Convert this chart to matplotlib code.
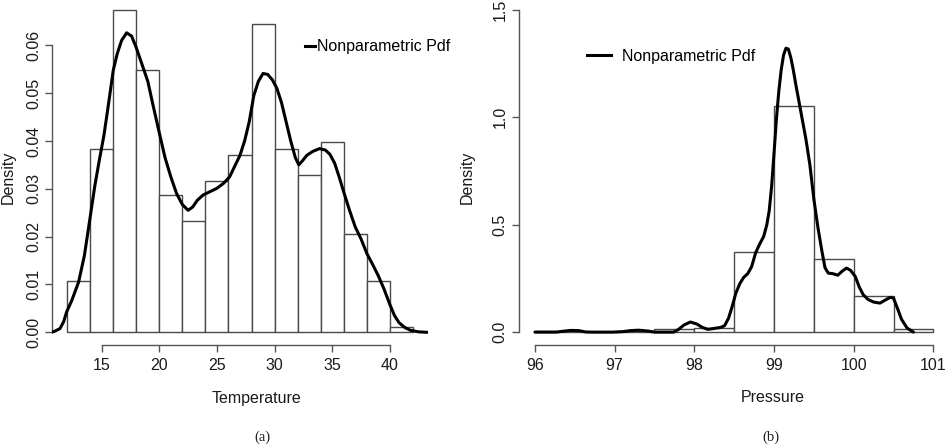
import matplotlib
matplotlib.use("Agg")
import matplotlib.pyplot as plt
from matplotlib.lines import Line2D
import numpy as np

plt.rcParams['font.family'] = ['Liberation Sans', 'DejaVu Sans']

# (a) temperature: histogram (bins of width 2) and kernel density curve
temp_edges = [12, 14, 16, 18, 20, 22, 24, 26, 28, 30, 32, 34, 36, 38, 40, 42]
temp_density = [0.0108, 0.0384, 0.0673, 0.0548, 0.0288, 0.0232, 0.0316, 0.0371,
                0.0644, 0.0384, 0.0329, 0.0398, 0.0205, 0.0108, 0.0012]
temp_kde_x = [10.66, 11.0, 11.39, 11.7, 11.97, 12.4, 13.0, 13.5, 14.0, 14.4,
              14.8, 15.2, 15.6, 16.01, 16.36, 16.73, 17.17, 17.6, 18.0, 18.5,
              19.0, 19.5, 20.0, 20.5, 21.0, 21.5, 22.0, 22.5, 22.9, 23.3,
              23.8, 24.4, 25.0, 25.6, 26.1, 26.5, 27.0, 27.4, 27.8, 28.2,
              28.6, 29.0, 29.4, 29.8, 30.2, 30.6, 31.0, 31.4, 31.8, 32.1,
              32.4, 32.8, 33.3, 33.9, 34.4, 34.8, 35.2, 35.6, 36.0, 36.5,
              37.0, 37.5, 38.0, 38.5, 39.0, 39.5, 40.0, 40.4, 40.8, 41.3,
              41.8, 42.5, 43.24]
temp_kde_y = [0.0000, 0.0003, 0.0008, 0.0022, 0.0043, 0.0066, 0.0105, 0.0160, 0.0240, 0.0305,
              0.0360, 0.0412, 0.0478, 0.0548, 0.0583, 0.0610, 0.0626, 0.0619, 0.0595, 0.0560,
              0.0525, 0.0470, 0.0417, 0.0365, 0.0325, 0.0290, 0.0267, 0.0255, 0.0262, 0.0276,
              0.0287, 0.0294, 0.0301, 0.0312, 0.0325, 0.0345, 0.0370, 0.0400, 0.0440, 0.0495,
              0.0525, 0.0541, 0.0539, 0.0528, 0.0510, 0.0480, 0.0440, 0.0400, 0.0365, 0.0350,
              0.0358, 0.0370, 0.0378, 0.0384, 0.0381, 0.0372, 0.0354, 0.0325, 0.0293, 0.0255,
              0.0220, 0.0195, 0.0165, 0.0142, 0.0118, 0.0090, 0.0058, 0.0035, 0.0020, 0.0010,
              0.0004, 0.0001, 0.0000]
temp_ticks = [15, 20, 25, 30, 35, 40]
temp_yticks = [0.00, 0.01, 0.02, 0.03, 0.04, 0.05, 0.06]

# (b) pressure: histogram (bins of width 0.5) and kernel density curve
pres_edges = [96.0, 96.5, 97.0, 97.5, 98.0, 98.5, 99.0, 99.5, 100.0, 100.5, 101.0]
pres_density = [0.003, 0.0, 0.003, 0.014, 0.019, 0.375, 1.053, 0.340, 0.166, 0.014]
pres_kde_x = [96.00, 96.27, 96.35, 96.45, 96.55, 96.63, 96.70, 96.98, 97.10, 97.20,
              97.30, 97.42, 97.50, 97.74, 97.80, 97.87, 97.95, 98.03, 98.10, 98.17,
              98.25, 98.33, 98.38, 98.43, 98.48, 98.52, 98.57, 98.62, 98.67, 98.72,
              98.77, 98.82, 98.87, 98.91, 98.94, 98.97, 99.00, 99.03, 99.06, 99.09,
              99.12, 99.15, 99.18, 99.21, 99.24, 99.28, 99.31, 99.35, 99.40, 99.45,
              99.50, 99.55, 99.60, 99.64, 99.68, 99.74, 99.80, 99.86, 99.91, 99.96,
              100.02, 100.07, 100.12, 100.18, 100.25, 100.33, 100.40, 100.46, 100.50, 100.55,
              100.60, 100.67, 100.75]
pres_kde_y = [0.000, 0.000, 0.004, 0.008, 0.007, 0.001, 0.000, 0.000, 0.002, 0.007,
              0.009, 0.005, 0.000, 0.000, 0.012, 0.033, 0.047, 0.038, 0.022, 0.013,
              0.017, 0.022, 0.030, 0.065, 0.125, 0.180, 0.225, 0.255, 0.272, 0.305,
              0.370, 0.410, 0.445, 0.500, 0.565, 0.678, 0.830, 0.990, 1.120, 1.220,
              1.290, 1.322, 1.318, 1.280, 1.225, 1.140, 1.081, 1.000, 0.900, 0.780,
              0.620, 0.490, 0.380, 0.300, 0.275, 0.272, 0.265, 0.285, 0.298, 0.288,
              0.259, 0.210, 0.174, 0.152, 0.140, 0.135, 0.150, 0.162, 0.158, 0.110,
              0.060, 0.019, 0.000]
pres_ticks = [96, 97, 98, 99, 100, 101]
pres_yticks = [0.0, 0.5, 1.0, 1.5]

W, H = 953, 446
fig = plt.figure(figsize=(W / 100, H / 100), dpi=100)

AXIS_COL = '#555555'
BAR_COL = '#4a4a4a'
FS = 11.5


def r_style(ax, xb, yb, xticks, yticks, yfmt):
    for s in ('top', 'right'):
        ax.spines[s].set_visible(False)
    for s in ('left', 'bottom'):
        ax.spines[s].set_color(AXIS_COL)
        ax.spines[s].set_linewidth(1.0)
    ax.spines['bottom'].set_bounds(*xb)
    ax.spines['left'].set_bounds(*yb)
    ax.set_xticks(xticks)
    ax.set_yticks(yticks)
    ax.set_yticklabels([yfmt.format(v) for v in yticks], rotation=90, va='center')
    ax.tick_params(direction='out', length=5.2, width=1.0, color=AXIS_COL,
                   labelsize=FS, labelcolor='#1a1a1a')
    ax.tick_params(axis='x', pad=4)
    ax.tick_params(axis='y', pad=3)
    ax.set_facecolor('none')


def hist_bars(ax, edges, dens):
    edges = np.asarray(edges)
    ax.bar(edges[:-1], dens, width=np.diff(edges), align='edge',
           facecolor='white', edgecolor=BAR_COL, linewidth=1.0, zorder=1)


# left panel
axL = fig.add_axes([52.3 / W, 1 - 345 / H, (427.7 - 52.3) / W, (345 + 2.6) / H])
hist_bars(axL, temp_edges, temp_density)
axL.plot(temp_kde_x, temp_kde_y, color='black', lw=2.2, zorder=3,
         solid_joinstyle='round', solid_capstyle='round')
axL.set_xlim(10.72, 43.28)
axL.set_ylim(-0.00265, 0.0700)
r_style(axL, (15, 40), (0, 0.06), temp_ticks, temp_yticks, '{:.2f}')
axL.legend([Line2D([], [], color='black', lw=2.2)], ['Nonparametric Pdf'],
           loc='center left', bbox_to_anchor=(305 / W, 1 - 46.7 / H),
           bbox_transform=fig.transFigure, frameon=False, borderaxespad=0,
           borderpad=0, handlelength=0.62, handletextpad=0.12, fontsize=FS)

# right panel
axR = fig.add_axes([519 / W, 1 - 345 / H, (949.3 - 519) / W, (345 + 2.9) / H])
hist_bars(axR, pres_edges, pres_density)
axR.plot(pres_kde_x, pres_kde_y, color='black', lw=2.2, zorder=3,
         solid_joinstyle='round', solid_capstyle='round')
axR.set_xlim(95.8, 101.2)
axR.set_ylim(-0.06, 1.56)
r_style(axR, (96, 101), (0, 1.5), pres_ticks, pres_yticks, '{:.1f}')
axR.legend([Line2D([], [], color='black', lw=2.2)], ['Nonparametric Pdf'],
           loc='center left', bbox_to_anchor=(586.7 / W, 1 - 56 / H),
           bbox_transform=fig.transFigure, frameon=False, borderaxespad=0,
           borderpad=0, handlelength=1.54, handletextpad=0.68, fontsize=FS)

# axis titles and captions
fig.text(256.5 / W, 1 - 398 / H, 'Temperature', ha='center', va='center', fontsize=FS, color='#1a1a1a')
fig.text(772.5 / W, 1 - 398 / H, 'Pressure', ha='center', va='center', fontsize=FS, color='#1a1a1a')
fig.text(8.5 / W, 1 - 177 / H, 'Density', ha='center', va='center', rotation=90, fontsize=FS, color='#1a1a1a')
fig.text(467 / W, 1 - 177 / H, 'Density', ha='center', va='center', rotation=90, fontsize=FS, color='#1a1a1a')
fig.text(262 / W, 1 - 437 / H, '(a)', ha='center', va='center', fontsize=10.5,
         family=['Liberation Serif', 'DejaVu Serif'], color='#222222')
fig.text(771 / W, 1 - 437 / H, '(b)', ha='center', va='center', fontsize=10.5,
         family=['Liberation Serif', 'DejaVu Serif'], color='#222222')

fig.savefig('out.png', dpi=100)
